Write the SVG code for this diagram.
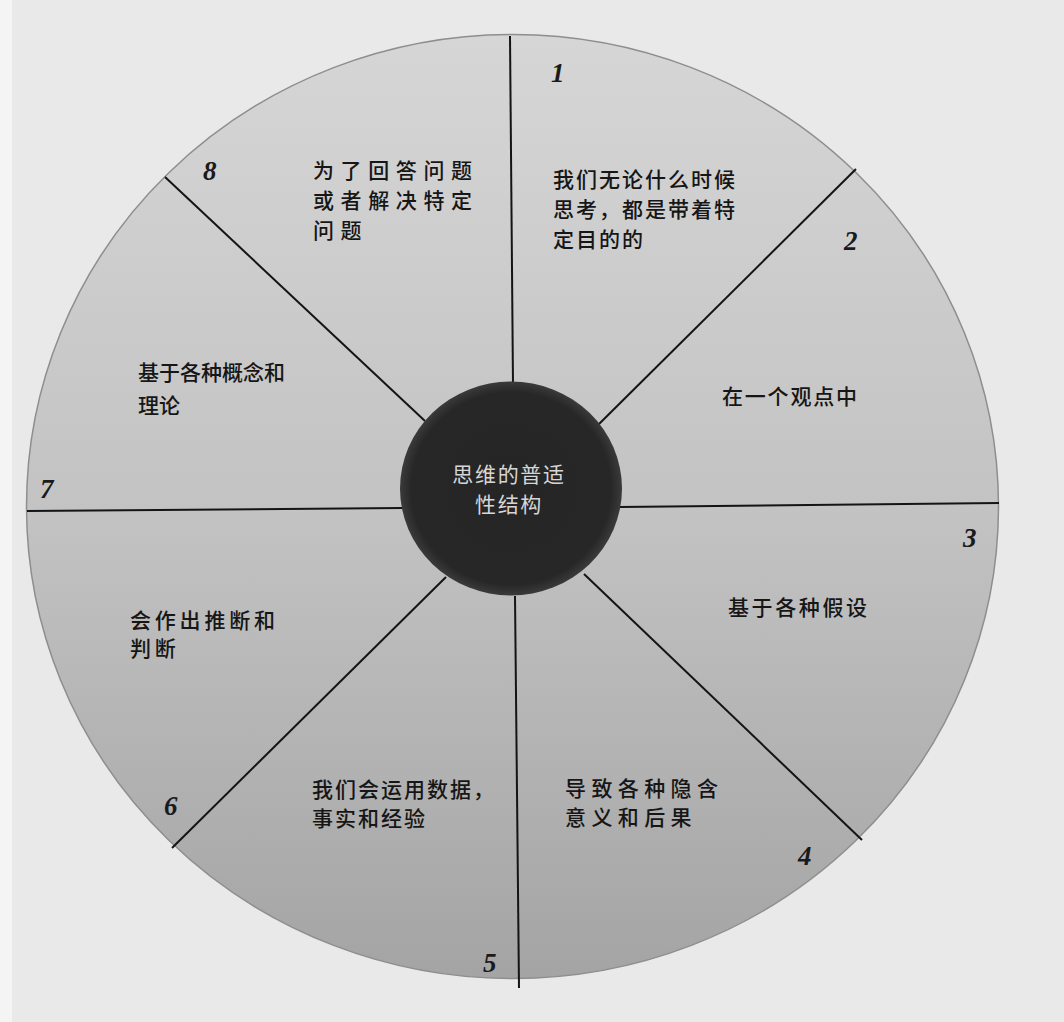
<svg xmlns="http://www.w3.org/2000/svg" width="1064" height="1022" viewBox="0 0 1064 1022">
<style>
.lbl{font-family:"Noto Sans CJK SC","Noto Sans",sans-serif;font-size:21px;font-weight:500;fill:#161616;}
.num{font-family:"Liberation Serif","DejaVu Serif",serif;font-style:italic;font-weight:bold;font-size:27px;fill:#1a1a1a;}
.ctr{font-family:"Noto Sans CJK SC","Noto Sans",sans-serif;font-size:21px;fill:#d6d6d6;text-anchor:middle;}
.div{stroke:#141414;stroke-width:2;fill:none;}
</style>
<defs>
<linearGradient id="disc" x1="0" y1="0" x2="0" y2="1">
<stop offset="0" stop-color="#d6d6d6"/>
<stop offset="0.5" stop-color="#c3c3c3"/>
<stop offset="1" stop-color="#a4a4a4"/>
</linearGradient>
<radialGradient id="hub" cx="0.5" cy="0.5" r="0.5">
<stop offset="0" stop-color="#252525"/>
<stop offset="0.9" stop-color="#272727"/>
<stop offset="1" stop-color="#3a3a3a"/>
</radialGradient>
</defs>
<rect x="0" y="0" width="1064" height="1022" fill="#e9e9e9"/>
<rect x="0" y="0" width="12" height="1022" fill="#f4f4f4"/>
<g id="wheel">
<ellipse cx="512.5" cy="506.5" rx="486" ry="472" fill="url(#disc)" stroke="#8e8e8e" stroke-width="1.5"/>
</g>
<g id="connectors">
<line class="div" x1="510" y1="36" x2="513" y2="385"/>
<line class="div" x1="856" y1="169" x2="596" y2="427"/>
<line class="div" x1="620" y1="507" x2="999" y2="503"/>
<line class="div" x1="584" y1="574" x2="862" y2="840"/>
<line class="div" x1="515" y1="596" x2="519" y2="988"/>
<line class="div" x1="446" y1="577" x2="172" y2="848"/>
<line class="div" x1="27" y1="511" x2="402" y2="508"/>
<line class="div" x1="165" y1="177" x2="425" y2="421"/>
</g>
<g id="hub-node">
<ellipse cx="511" cy="488.5" rx="111" ry="107" fill="url(#hub)"/>
<text class="ctr" x="509" y="482" letter-spacing="1.7">思维的普适</text>
<text class="ctr" x="509" y="512" letter-spacing="1.7">性结构</text>
</g>
<g id="seg1">
<text class="num" x="551" y="82">1</text>
<text class="lbl" x="553" y="187" letter-spacing="2">我们无论什么时候</text>
<text class="lbl" x="553" y="217" letter-spacing="2">思考，都是带着特</text>
<text class="lbl" x="553" y="247" letter-spacing="2">定目的的</text>
</g>
<g id="seg2">
<text class="num" x="844" y="250">2</text>
<text class="lbl" x="722" y="404" letter-spacing="1.8">在一个观点中</text>
</g>
<g id="seg3">
<text class="num" x="963" y="547">3</text>
<text class="lbl" x="728" y="615" letter-spacing="2.6">基于各种假设</text>
</g>
<g id="seg4">
<text class="num" x="798" y="865">4</text>
<text class="lbl" x="565" y="796" letter-spacing="5.4">导致各种隐含</text>
<text class="lbl" x="565" y="825" letter-spacing="5.4">意义和后果</text>
</g>
<g id="seg5">
<text class="num" x="483" y="972">5</text>
<text class="lbl" x="312" y="797" letter-spacing="2">我们会运用数据，</text>
<text class="lbl" x="312" y="826" letter-spacing="2">事实和经验</text>
</g>
<g id="seg6">
<text class="num" x="164" y="815">6</text>
<text class="lbl" x="130" y="628" letter-spacing="3.8">会作出推断和</text>
<text class="lbl" x="130" y="656" letter-spacing="3.8">判断</text>
</g>
<g id="seg7">
<text class="num" x="40" y="498">7</text>
<text class="lbl" x="138" y="380" letter-spacing="0">基于各种概念和</text>
<text class="lbl" x="138" y="413" letter-spacing="0">理论</text>
</g>
<g id="seg8">
<text class="num" x="203" y="180">8</text>
<text class="lbl" x="313" y="178" letter-spacing="6.6">为了回答问题</text>
<text class="lbl" x="313" y="208" letter-spacing="6.6">或者解决特定</text>
<text class="lbl" x="313" y="238" letter-spacing="6.6">问题</text>
</g>
</svg>
